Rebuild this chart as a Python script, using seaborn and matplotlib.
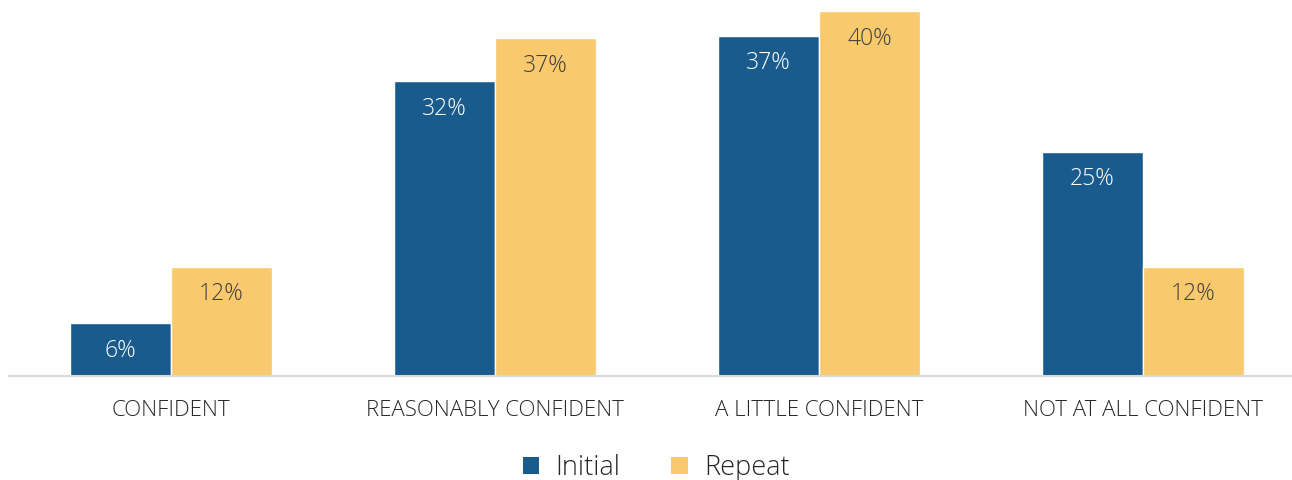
import matplotlib
matplotlib.use("Agg")
import matplotlib.pyplot as plt
import seaborn as sns
import pandas as pd
from matplotlib.patches import Patch

categories = ["CONFIDENT", "REASONABLY CONFIDENT", "A LITTLE CONFIDENT", "NOT AT ALL CONFIDENT"]
initial = [5.8, 32.3, 37.3, 24.6]
repeat = [12.0, 37.0, 40.0, 12.0]
series = ["Initial", "Repeat"]
colors = ["#1a5b8e", "#f9c96e"]
label_colors = ["#ffffff", "#404040"]

df = pd.DataFrame({
    "category": categories * 2,
    "value": initial + repeat,
    "series": [series[0]] * len(categories) + [series[1]] * len(categories),
})

sns.set_theme(style="white")
plt.rcParams["font.family"] = ["Open Sans", "DejaVu Sans"]

W, H = 1292, 480
fig = plt.figure(figsize=(W / 100, H / 100), dpi=100)
ax = fig.add_axes([9 / W, 104 / H, 1296 / W, 365 / H])

sns.barplot(data=df, x="category", y="value", hue="series", palette=colors,
            width=0.624, gap=0, saturation=1, ax=ax, legend=False)

ax.set_ylim(0, 40)
ax.set_xlim(-0.5, 3.5)
for side in ["top", "right", "left"]:
    ax.spines[side].set_visible(False)
ax.spines["bottom"].set_color("#d9d9d9")
ax.spines["bottom"].set_linewidth(1.5)
ax.set_yticks([])
ax.set_xlabel("")
ax.set_ylabel("")
ax.tick_params(axis="x", length=0, pad=17, labelsize=16, labelcolor="#262626")
for t in ax.get_xticklabels():
    t.set_fontweight("light")

for container, lc in zip(ax.containers, label_colors):
    for bar in container:
        h = bar.get_height()
        ax.annotate(f"{h:.0f}%", (bar.get_x() + bar.get_width() / 2, h),
                    xytext=(0, -20), textcoords="offset points",
                    ha="center", va="center", fontsize=16.5, color=lc,
                    fontweight="light")

handles = [Patch(facecolor=c, edgecolor="none") for c in colors]
fig.legend(handles, series, loc="center", bbox_to_anchor=(656 / W, 1 - 468 / H),
           ncol=2, frameon=False, handlelength=0.6, handleheight=0.6,
           handletextpad=0.6, columnspacing=1.9,
           prop={"size": 19.5, "weight": "light"})

fig.savefig("out.png", dpi=100)
